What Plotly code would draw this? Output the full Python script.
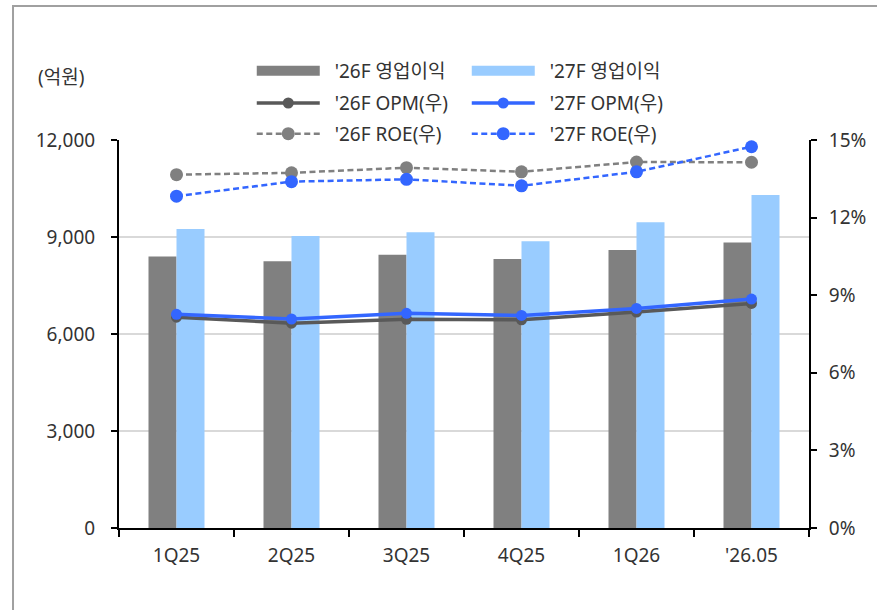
import plotly.graph_objects as go

# Quarterly categories
categories = ["1Q25", "2Q25", "3Q25", "4Q25", "1Q26", "'26.05"]

# Operating profit estimates (억원)
op_26f = [8400, 8250, 8450, 8320, 8600, 8830]
op_27f = [9250, 9030, 9150, 8870, 9460, 10300]

# Operating margin (%, right axis)
opm_26f = [8.15, 7.92, 8.07, 8.05, 8.35, 8.68]
opm_27f = [8.26, 8.08, 8.30, 8.22, 8.49, 8.85]

# ROE (%, right axis)
roe_26f = [13.66, 13.73, 13.93, 13.77, 14.15, 14.14]
roe_27f = [12.83, 13.39, 13.48, 13.23, 13.77, 14.74]

left_ticks = [0, 3000, 6000, 9000, 12000]
right_ticks = [0, 3, 6, 9, 12, 15]
right_labels = [f"{v}%" for v in right_ticks]

GRAY_BAR = "#808080"
BLUE_BAR = "#99CCFF"
DARK_LINE = "#595959"
BLUE_LINE = "#3366FF"
FONT = "Noto Sans, Noto Sans CJK KR, sans-serif"
TXT = "#333333"
FS = 19
PAD = "\u00a0\u00a0"

fig = go.Figure()

# Bars (legend entries are drawn by the thick-line proxies below)
fig.add_trace(go.Bar(x=categories, y=op_26f, name="'26F 영업이익",
                     marker=dict(color=GRAY_BAR, line=dict(width=0)),
                     showlegend=False))
fig.add_trace(go.Bar(x=categories, y=op_27f, name="'27F 영업이익",
                     marker=dict(color=BLUE_BAR, line=dict(width=0)),
                     showlegend=False))

# Legend proxies: wide flat swatches for the bar series
fig.add_trace(go.Scatter(x=[None], y=[None], name=PAD + "'26F 영업이익", mode="lines",
                         line=dict(color=GRAY_BAR, width=11), legend="legend",
                         hoverinfo="skip"))
fig.add_trace(go.Scatter(x=[None], y=[None], name=PAD + "'27F 영업이익", mode="lines",
                         line=dict(color=BLUE_BAR, width=11), legend="legend",
                         hoverinfo="skip"))

fig.add_trace(go.Scatter(x=categories, y=opm_26f, name=PAD + "'26F OPM(우)", yaxis="y2",
                         mode="lines+markers",
                         line=dict(color=DARK_LINE, width=3.5),
                         marker=dict(color=DARK_LINE, size=11),
                         legend="legend2"))
fig.add_trace(go.Scatter(x=categories, y=opm_27f, name=PAD + "'27F OPM(우)", yaxis="y2",
                         mode="lines+markers",
                         line=dict(color=BLUE_LINE, width=3.5),
                         marker=dict(color=BLUE_LINE, size=11),
                         legend="legend2"))

fig.add_trace(go.Scatter(x=categories, y=roe_26f, name=PAD + "'26F ROE(우)", yaxis="y2",
                         mode="lines+markers",
                         line=dict(color=GRAY_BAR, width=2.5, dash="6px,3.5px"),
                         marker=dict(color=GRAY_BAR, size=13),
                         legend="legend3"))
fig.add_trace(go.Scatter(x=categories, y=roe_27f, name=PAD + "'27F ROE(우)", yaxis="y2",
                         mode="lines+markers",
                         line=dict(color=BLUE_LINE, width=2.5, dash="6px,3.5px"),
                         marker=dict(color=BLUE_LINE, size=13),
                         legend="legend3"))

legend_common = dict(orientation="h", xanchor="left", yanchor="middle",
                     x=0.1924, entrywidth=137, entrywidthmode="pixels",
                     itemwidth=63, bgcolor="rgba(0,0,0,0)",
                     font=dict(family=FONT, size=FS, color=TXT),
                     itemclick=False, itemdoubleclick=False)

tickfont = dict(family=FONT, size=FS, color=TXT)

fig.update_layout(
    width=877, height=610,
    margin=dict(l=119, r=68, t=140, b=82),
    paper_bgcolor="white", plot_bgcolor="white",
    barmode="group", bargap=0.513, bargroupgap=0,
    font=dict(family=FONT, size=FS, color=TXT),
    showlegend=True,
    legend=dict(y=1.178, **legend_common),
    legend2=dict(y=1.095, **legend_common),
    legend3=dict(y=1.016, **legend_common),
    xaxis=dict(
        type="category", showline=True, linecolor="black", linewidth=2,
        ticks="outside", tickson="boundaries", ticklen=7, tickwidth=2,
        tickcolor="black", showgrid=False, tickfont=tickfont,
        ticklabelstandoff=9,
    ),
    yaxis=dict(
        range=[0, 12000], tickvals=left_ticks, tickformat=",d",
        showline=True, linecolor="black", linewidth=2,
        ticks="outside", ticklen=6, tickwidth=2, tickcolor="black",
        showgrid=True, gridcolor="#D9D9D9", gridwidth=2,
        zeroline=False, ticklabelstandoff=12, tickfont=tickfont,
    ),
    yaxis2=dict(
        range=[0, 15], tickvals=right_ticks, ticktext=right_labels,
        overlaying="y", side="right",
        showline=True, linecolor="black", linewidth=2,
        ticks="outside", ticklen=6, tickwidth=2, tickcolor="black",
        showgrid=False, zeroline=False, ticklabelstandoff=8, tickfont=tickfont,
    ),
)

# Unit label above the left axis
fig.add_annotation(text="(억원)", xref="paper", yref="paper",
                   x=-0.084, y=1.162, xanchor="center", yanchor="middle",
                   showarrow=False, font=dict(family=FONT, size=FS, color=TXT))

# Outer frame of the chart box
fig.add_shape(type="rect", xref="paper", yref="paper",
              x0=-0.1536, y0=-0.4, x1=1.3, y1=1.3455,
              line=dict(color="#A0A0A0", width=2), layer="below")

fig.write_html("out.html")
